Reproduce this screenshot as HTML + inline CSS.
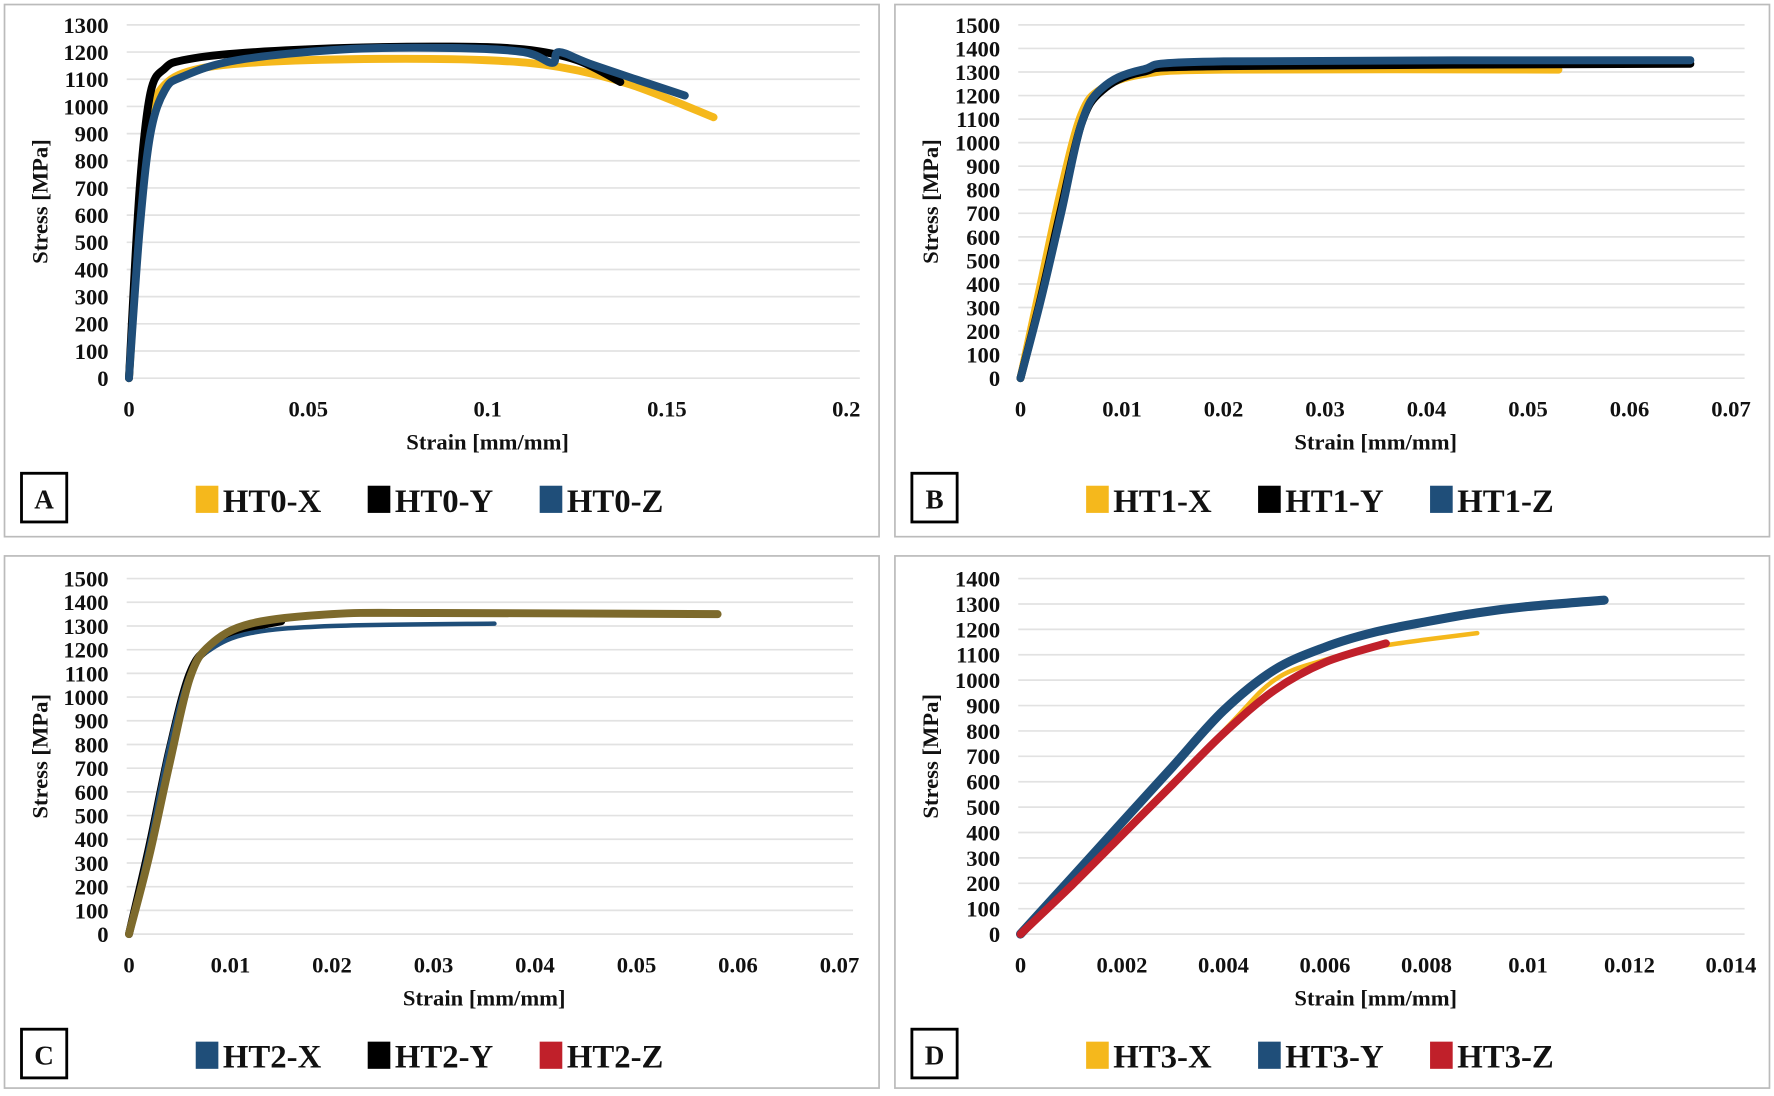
<!DOCTYPE html>
<html><head><meta charset="utf-8"><style>
html,body{margin:0;padding:0;background:#fff}
svg{display:block}
text{font-family:"Liberation Serif",serif;font-weight:bold;fill:#111}
</style></head><body>
<svg id="fig" width="1774" height="1096" viewBox="0 0 1568 968" preserveAspectRatio="none"></svg>
<script>
// Panel A data
const aXs=[0,0.003,0.006,0.01,0.02,0.04,0.07,0.1,0.12,0.14,0.163], aXv=[0,600,950,1080,1140,1165,1175,1170,1145,1080,960];
const aYs=[0,0.003,0.006,0.01,0.015,0.03,0.06,0.09,0.11,0.125,0.137], aYv=[0,700,1050,1140,1170,1195,1215,1220,1210,1170,1090];
const aZs=[0,0.003,0.006,0.01,0.015,0.03,0.06,0.09,0.11,0.118,0.12,0.13,0.155], aZv=[0,550,900,1060,1110,1170,1210,1215,1200,1160,1200,1150,1040];
// Panel B data
const bXs=[0,0.002,0.004,0.006,0.008,0.012,0.02,0.053], bXv=[0,400,800,1120,1230,1290,1310,1310];
const bYs=[0,0.002,0.004,0.006,0.008,0.012,0.02,0.066], bYv=[0,340,720,1080,1220,1300,1325,1335];
const bZs=[0,0.002,0.004,0.006,0.008,0.012,0.02,0.066], bZv=[0,330,700,1080,1230,1310,1345,1350];
// Panel C data
const cXs=[0,0.002,0.004,0.006,0.008,0.012,0.02,0.036], cXv=[0,380,800,1100,1200,1270,1300,1310];
const cYs=[0,0.002,0.004,0.006,0.008,0.012,0.015], cYv=[0,370,780,1100,1210,1290,1320];
const cZs=[0,0.002,0.004,0.006,0.008,0.012,0.02,0.03,0.058], cZv=[0,330,720,1080,1220,1310,1350,1355,1350];
// Panel D data
const dXs=[0,0.002,0.004,0.005,0.006,0.007,0.008,0.009], dXv=[0,400,800,1000,1080,1130,1160,1185];
const dYs=[0,0.001,0.002,0.003,0.004,0.005,0.006,0.007,0.008,0.009,0.010,0.0115], dYv=[0,220,440,660,880,1040,1130,1190,1230,1265,1290,1315];
const dZs=[0,0.001,0.002,0.003,0.004,0.005,0.006,0.0072], dZv=[0,190,390,590,790,960,1070,1145];
// tick labels
const aXt=["0","0.05","0.1","0.15","0.2"];
const bXt=["0","0.01","0.02","0.03","0.04","0.05","0.06","0.07"];
const dXt=["0","0.002","0.004","0.006","0.008","0.01","0.012","0.014"];

const NS="http://www.w3.org/2000/svg", svg=document.getElementById('fig');
function el(t,a,p){const e=document.createElementNS(NS,t);for(const k in a)e.setAttribute(k,a[k]);(p||svg).appendChild(e);return e;}
function txt(x,y,s,size,anchor,p){const t=el('text',{x:x,y:y,'font-size':size,'text-anchor':anchor||'middle'},p);t.textContent=s;return t;}
function smooth(P){
  let d='M'+P[0][0].toFixed(1)+','+P[0][1].toFixed(1);
  for(let i=0;i<P.length-1;i++){
    const p0=P[Math.max(i-1,0)],p1=P[i],p2=P[i+1],p3=P[Math.min(i+2,P.length-1)];
    const c1=[p1[0]+(p2[0]-p0[0])/6,p1[1]+(p2[1]-p0[1])/6];
    const c2=[p2[0]-(p3[0]-p1[0])/6,p2[1]-(p3[1]-p1[1])/6];
    d+=' C'+c1.map(v=>v.toFixed(1))+' '+c2.map(v=>v.toFixed(1))+' '+p2.map(v=>v.toFixed(1));
  }
  return d;
}

function panel(o){
  const g=el('g',{});
  
  
  const b=el('rect',{x:o.bx,y:o.by,width:773,height:470,fill:'#fff',stroke:'#bbb','stroke-width':1.5},g);
  
  
  const X=v=>o.x0+(v-o.xmin)/(o.xmax-o.xmin)*(o.x1-o.x0);
  const Y=v=>o.y0-(v/o.ymax)*(o.y0-o.y1);
  for(let v=0;v<=o.ymax;v+=100){
    const gl=el('line',{x1:o.x0-2,x2:o.x1+12,y1:Y(v),y2:Y(v),stroke:'#e2e2e2','stroke-width':1.5},g);
    
    
    const t=txt(o.x0-18,Y(v)+7,String(v),20,'end',g);
    
    
  }
  const n=o.xt.length-1;
  o.xt.forEach((s,i)=>{
    const t=txt(X(o.xmin+i*(o.xmax-o.xmin)/n),o.y0+34,s,20,'middle',g);
    
    
  });
  const xt=txt((o.x0+o.x1)/2,o.y0+63,'Strain [mm/mm]',20,'middle',g);
  
  
  const yt=txt(0,0,'Stress [MPa]',20,'middle',g);
  yt.setAttribute('transform','translate('+(o.bx+38)+','+((o.y0+o.y1)/2)+') rotate(-90)');
  
  
  o.series.forEach(s=>{
    const P=s.xs.map((x,i)=>[X(x),Y(s.vs[i])]);
    const pl=el('path',{d:smooth(P),fill:'none',stroke:s.color,'stroke-width':s.w||7,'stroke-linejoin':'round','stroke-linecap':'round'},g);
    
    
  });
  const lb=el('rect',{x:o.bx+15,y:o.y0+84,width:40,height:43,fill:'#fff',stroke:'#000','stroke-width':2.5},g);
  
  
  const lt=txt(o.bx+35,o.y0+115,o.letter,24,'middle',g);
  
  
  o.legend.forEach((s,i)=>{
    const lx=o.bx+169+i*152, ly=o.y0+107;
    const sw=el('rect',{x:lx,y:ly-12,width:20,height:24,fill:s.color},g);
    
    
    const t=txt(lx+24,ly+11,s.name,29,'start',g);
    
    
  });
}
const YEL='#F5B81C',BLK='#000',BLU='#1F4E79',RED='#C0202A',OLV='#7d6a2c';
panel({letter:'A',bx:4,by:4,x0:114,x1:748,xmin:0,xmax:0.2,y0:334,y1:22,ymax:1300,xt:aXt,
  series:[{name:'HT0-X',xs:aXs,vs:aXv,color:YEL},{name:'HT0-Y',xs:aYs,vs:aYv,color:BLK},{name:'HT0-Z',xs:aZs,vs:aZv,color:BLU}],
  legend:[{name:'HT0-X',color:YEL},{name:'HT0-Y',color:BLK},{name:'HT0-Z',color:BLU}]});
panel({letter:'B',bx:791,by:4,x0:902,x1:1530,xmin:0,xmax:0.07,y0:334,y1:22,ymax:1500,xt:bXt,
  series:[{name:'HT1-X',xs:bXs,vs:bXv,color:YEL},{name:'HT1-Y',xs:bYs,vs:bYv,color:BLK},{name:'HT1-Z',xs:bZs,vs:bZv,color:BLU}],
  legend:[{name:'HT1-X',color:YEL},{name:'HT1-Y',color:BLK},{name:'HT1-Z',color:BLU}]});
panel({letter:'C',bx:4,by:491,x0:114,x1:742,xmin:0,xmax:0.07,y0:825,y1:511,ymax:1500,xt:bXt,
  series:[{name:'HT2-Y',xs:cYs,vs:cYv,color:BLK},{name:'HT2-X',xs:cXs,vs:cXv,color:BLU,w:4},{name:'HT2-Z',xs:cZs,vs:cZv,color:OLV}],
  legend:[{name:'HT2-X',color:BLU},{name:'HT2-Y',color:BLK},{name:'HT2-Z',color:RED}]});
panel({letter:'D',bx:791,by:491,x0:902,x1:1530,xmin:0,xmax:0.014,y0:825,y1:511,ymax:1400,xt:dXt,
  series:[{name:'HT3-X',xs:dXs,vs:dXv,color:YEL,w:4},{name:'HT3-Y',xs:dYs,vs:dYv,color:BLU,w:8},{name:'HT3-Z',xs:dZs,vs:dZv,color:RED,w:7}],
  legend:[{name:'HT3-X',color:YEL},{name:'HT3-Y',color:BLU},{name:'HT3-Z',color:RED}]});
</script>
</body></html>
